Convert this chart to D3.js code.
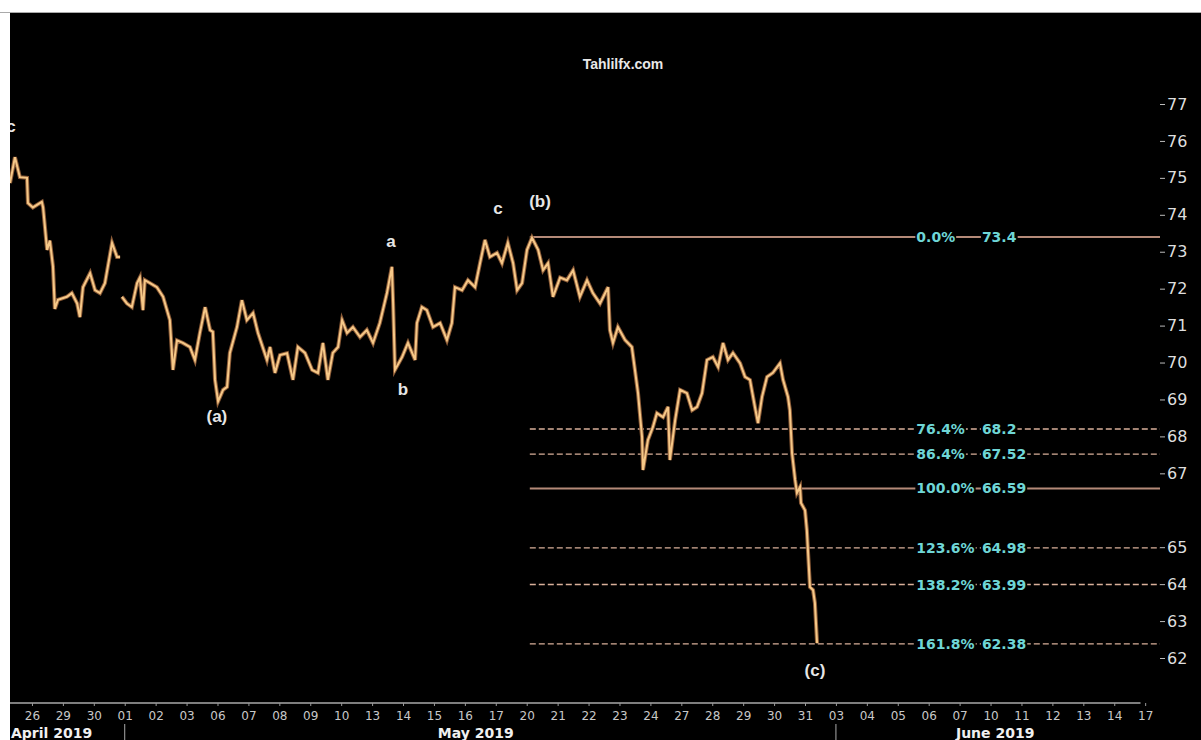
<!DOCTYPE html>
<html>
<head>
<meta charset="UTF-8">
<title>Tahlilfx.com</title>
<script src="https://d3js.org/d3.v7.min.js"></script>
<style>
    body { margin: 0; background: #fff; }
    .tick text { font-family: "DejaVu Sans", sans-serif; }
    .wave { font-family: "Liberation Sans", Arial, sans-serif; font-weight: bold; font-size: 17px; fill: #e6e6e6; }
    .fib { font-family: "DejaVu Sans", sans-serif; font-weight: bold; font-size: 14px; fill: #6fd6d6; }
</style>
</head>
<body>
<div id="chart"></div>
<script>
// trading days shown on the axis
const dayLabels = ["26","29","30","01","02","03","06","07","08","09","10","13","14","15","16","17",
    "20","21","22","23","24","27","28","29","30","31","03","04","05","06","07","10","11","12","13","14","17"];
const months = [
    { text: "April 2019", at: -0.68, anchor: "start" },
    { text: "May 2019", at: 14.35, anchor: "middle" },
    { text: "June 2019", at: 31.15, anchor: "middle" }
];
const monthStarts = [3, 26];

const yTicks = [77, 76, 75, 74, 73, 72, 71, 70, 69, 68, 67, 65, 64, 63, 62];

// price path (position in trading days from 26 Apr, price); null = gap
const times = [-0.71,-0.55,-0.39,-0.16,-0.13,0.03,0.32,0.36,0.49,0.58,0.68,0.74,0.84,1.13,1.29,1.46,1.55,1.65,1.88,2.04,2.20,2.36,2.59,2.75,2.85,
    2.88,
    2.91,3.07,3.23,3.40,3.49,3.59,3.65,3.82,4.04,4.24,4.46,4.56,4.69,4.88,5.11,5.27,5.43,5.60,5.76,5.85,5.92,6.02,6.18,6.31,6.40,6.63,6.79,6.95,
    7.15,7.31,7.60,7.70,7.86,8.02,8.25,8.44,8.60,8.83,9.06,9.25,9.41,9.57,9.73,9.90,10.03,10.19,10.38,10.61,10.83,11.03,11.25,11.48,11.64,11.68,
    11.74,11.97,12.16,12.39,12.45,12.61,12.77,12.97,13.20,13.42,13.58,13.68,13.91,14.10,14.33,14.49,14.65,14.81,15.04,15.20,15.39,15.56,15.69,
    15.85,16.01,16.17,16.37,16.53,16.69,16.85,17.08,17.30,17.50,17.72,17.95,18.14,18.37,18.63,18.69,18.79,18.95,19.18,19.40,19.50,19.60,19.73,
    19.76,19.92,20.08,20.21,20.41,20.57,20.63,20.80,20.96,21.18,21.35,21.51,21.67,21.83,22.02,22.19,22.35,22.51,22.67,22.90,23.06,23.22,23.38,
    23.48,23.61,23.77,23.96,24.19,24.29,24.45,24.51,24.58,24.68,24.74,24.84,24.87,25.00,25.06,25.10,25.16,25.26,25.32,25.39];
const prices = [74.86,75.56,75.02,75.0,74.32,74.2,74.35,74.2,73.05,73.3,72.6,71.45,71.7,71.78,71.88,71.6,71.23,72.04,72.42,71.96,71.88,72.15,73.24,72.86,72.86,
    null,
    71.78,71.6,71.5,72.15,72.3,71.42,72.23,72.15,72.04,71.78,71.15,69.8,70.6,70.53,70.42,70.07,70.8,71.5,70.88,70.83,69.53,68.95,69.26,69.34,70.26,70.96,71.69,71.15,
    71.34,70.8,70.07,70.42,69.72,70.2,70.25,69.53,70.42,70.26,69.8,69.72,70.53,69.53,70.26,70.42,71.15,70.8,70.96,70.69,70.88,70.53,71.07,71.88,72.59,71.6,
    69.8,70.15,70.53,70.07,71.07,71.5,71.42,70.96,71.07,70.61,71.07,72.04,71.96,72.23,72.04,72.69,73.32,72.86,72.97,72.69,73.24,72.69,71.96,
    72.15,73.05,73.38,73.05,72.5,72.69,71.78,72.3,72.23,72.5,71.78,72.23,71.88,71.6,72.04,70.88,70.53,70.96,70.61,70.42,69.8,69.17,67.98,
    67.09,67.9,68.25,68.63,68.52,68.8,67.36,68.44,69.26,69.17,68.71,68.8,69.17,70.07,70.15,69.88,70.53,70.07,70.26,69.98,69.61,69.53,68.8,
    68.36,69.07,69.61,69.72,69.98,69.53,69.07,68.71,67.55,66.82,66.47,66.63,66.2,66.0,65.46,64.84,63.92,63.84,63.49,62.4];

// fibonacci levels
const fibPct = ["0.0%", "76.4%", "86.4%", "100.0%", "123.6%", "138.2%", "161.8%"];
const fibVal = [73.4, 68.2, 67.52, 66.59, 64.98, 63.99, 62.38];
const fibSolid = [true, false, false, true, false, false, false];
const fibFrom = 16.1, fibTo = 36.48, fibPctAt = 28.6, fibValAt = 30.72;

// wave labels
const waveText = ["c", "(a)", "a", "b", "c", "(b)", "(c)"];
const waveAt = [-0.68, 5.98, 11.61, 12.0, 15.07, 16.43, 25.32];
const waveVal = [76.38, 68.55, 73.29, 69.26, 74.18, 74.35, 61.65];

const W = 1201, H = 740;
const svg = d3.select("#chart").append("svg").attr("width", W).attr("height", H);

const x = d3.scaleLinear().domain([-0.71, 36.48]).range([10, 1160]);
const y = d3.scaleLinear().domain([62, 77]).range([658, 104]);

// black panel
svg.append("rect").attr("x", 10).attr("y", 12).attr("width", W - 10).attr("height", H - 12).attr("fill", "#000");
svg.append("line").attr("x1", 0).attr("x2", W).attr("y1", 12.5).attr("y2", 12.5).attr("stroke", "#aaa");

svg.append("clipPath").attr("id", "clip").append("rect")
    .attr("x", 10).attr("y", 12).attr("width", W - 10).attr("height", 691);

svg.append("text").attr("x", 623).attr("y", 69).attr("text-anchor", "middle")
    .attr("font-family", "Liberation Sans, Arial, sans-serif").attr("font-weight", "bold")
    .attr("font-size", 14).attr("fill", "#e8e8e8").text("Tahlilfx.com");

const plot = svg.append("g").attr("clip-path", "url(#clip)");

// fib lines
const fibs = fibVal.map((v, i) => ({ v, pct: fibPct[i], solid: fibSolid[i] }));
plot.selectAll(".fibline").data(fibs).enter().append("line")
    .attr("x1", x(fibFrom)).attr("x2", x(fibTo))
    .attr("y1", d => y(d.v)).attr("y2", d => y(d.v))
    .attr("stroke", d => d.solid ? "#b48a78" : "#d9b09a")
    .attr("stroke-width", d => d.solid ? 2 : 1.3)
    .attr("stroke-dasharray", d => d.solid ? null : "6,3");

// price
const pts = times.map((t, i) => ({ t, p: prices[i] }));
const line = d3.line().defined(d => d.p != null).x(d => x(d.t)).y(d => y(d.p));
plot.append("path").datum(pts).attr("d", line)
    .attr("fill", "none").attr("stroke", "#8a5a36").attr("stroke-width", 4).attr("stroke-linejoin", "miter");
plot.append("path").datum(pts).attr("d", line)
    .attr("fill", "none").attr("stroke", "#f6c888").attr("stroke-width", 2);

// fib labels with black boxes behind
function boxText(g, tx, ty, str) {
    const t = g.append("text").attr("class", "fib").attr("x", tx).attr("y", ty)
        .attr("dominant-baseline", "central").text(str);
    const b = t.node().getBBox();
    g.insert("rect", "text").attr("x", b.x - 1).attr("y", ty - 7).attr("width", b.width + 2).attr("height", 14).attr("fill", "#000");
}
fibs.forEach(d => {
    const g = plot.append("g");
    boxText(g, x(fibPctAt), y(d.v), d.pct);
    boxText(g, x(fibValAt), y(d.v), String(d.v));
});

// wave labels
plot.selectAll(".wave").data(waveText).enter().append("text")
    .attr("class", "wave")
    .attr("x", (d, i) => x(waveAt[i])).attr("y", (d, i) => y(waveVal[i]))
    .attr("text-anchor", "middle").attr("dominant-baseline", "central")
    .text(d => d);

// y axis
const ya = svg.append("g").attr("transform", "translate(1160,0)")
    .call(d3.axisRight(y).tickValues(yTicks).tickSize(5).tickPadding(2).tickFormat(d3.format("d")));
ya.select(".domain").remove();
ya.selectAll(".tick line").attr("stroke", "#bbb");
ya.selectAll(".tick text").attr("fill", "#dedede").attr("font-size", 16);

// x axis
svg.append("line").attr("x1", x(-0.71)).attr("x2", x(35.85)).attr("y1", 703).attr("y2", 703)
    .attr("stroke", "#a8a8a8").attr("stroke-width", 1.5);
const xa = svg.append("g").attr("transform", "translate(0,703)")
    .call(d3.axisBottom(x).tickValues(d3.range(dayLabels.length)).tickSize(3).tickPadding(5)
        .tickFormat(i => dayLabels[i]));
xa.select(".domain").remove();
xa.selectAll(".tick line").attr("stroke", "#999");
xa.selectAll(".tick text").attr("fill", "#c8c8c8").attr("font-size", 12);

svg.selectAll(".msep").data(monthStarts).enter().append("line")
    .attr("x1", d => x(d)).attr("x2", d => x(d)).attr("y1", 724).attr("y2", H)
    .attr("stroke", "#aaa");
svg.selectAll(".month").data(months).enter().append("text")
    .attr("x", d => x(d.at)).attr("y", 738).attr("text-anchor", d => d.anchor)
    .attr("font-family", "DejaVu Sans, sans-serif").attr("font-weight", "bold")
    .attr("font-size", 14).attr("fill", "#f0f0f0").text(d => d.text);
</script>
</body>
</html>
